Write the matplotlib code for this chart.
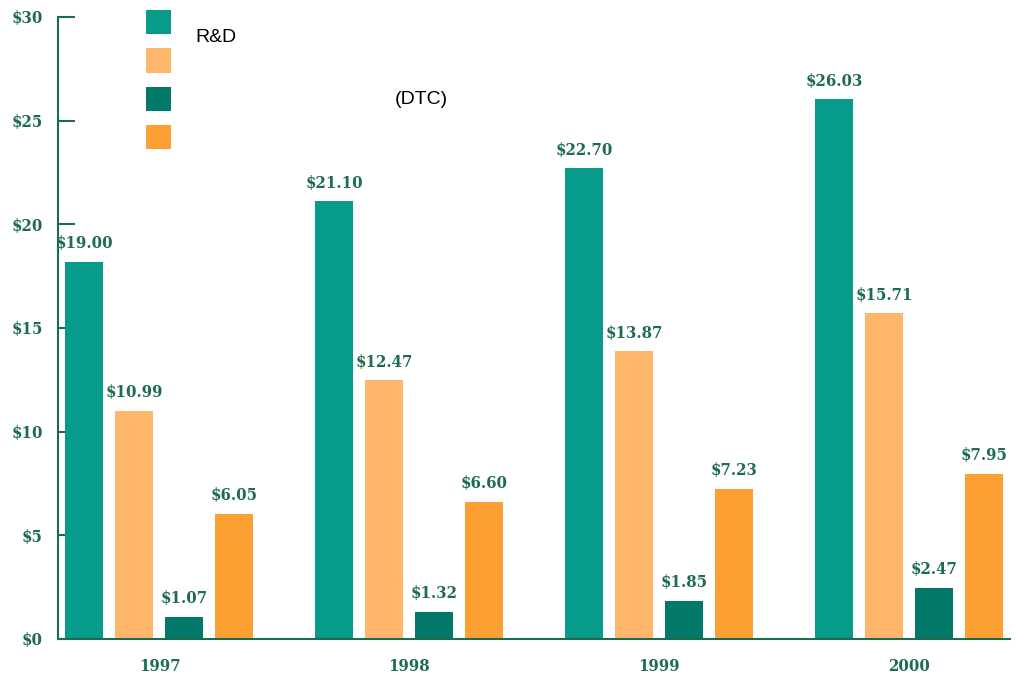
import matplotlib
matplotlib.use("Agg")
import matplotlib.pyplot as plt
import numpy as np

# data
years = ["1997", "1998", "1999", "2000"]
rd = [18.2, 21.10, 22.70, 26.03]
rd_text = [19.00, 21.10, 22.70, 26.03]
series2 = [10.99, 12.47, 13.87, 15.71]
dtc = [1.07, 1.32, 1.85, 2.47]
series4 = [6.05, 6.60, 7.23, 7.95]
yticks = [0, 5, 10, 15, 20, 25, 30]

colors = ["#079b8b", "#fdb66a", "#03796a", "#fda034"]
green = "#1e6b52"
bold_font = dict(family="DejaVu Serif", stretch="condensed", weight="bold", size=12)

fig = plt.figure(figsize=(10.17, 6.79), dpi=100)
ax = fig.add_axes([0.057, 0.059, 0.936, 0.916])

x = np.arange(len(years))
width = 0.152
step = 0.2
all_series = [(rd, rd_text), (series2, series2), (dtc, dtc), (series4, series4)]
handles = []
for i, (vals, labs) in enumerate(all_series):
    pos = x + (i - 1.5) * step
    bars = ax.bar(pos, vals, width, color=colors[i], zorder=2)
    handles.append(bars)
    for p, v, l in zip(pos, vals, labs):
        ax.annotate("${:.2f}".format(l), (p, v), xytext=(0, 7), textcoords="offset points",
                    ha="center", va="bottom", color=green, **bold_font)

ax.set_xlim(-0.406, 3.402)
ax.set_ylim(0, 30)
ax.set_xticks(x)
ax.set_xticklabels(years, color=green, **bold_font)
ax.set_yticks(yticks)
ax.set_yticklabels(["${}".format(t) for t in yticks], color=green, **bold_font)
ax.tick_params(axis="x", length=0, pad=14)
ax.tick_params(axis="y", direction="in", length=12, width=1.5, color=green, pad=11)

for s in ["top", "right"]:
    ax.spines[s].set_visible(False)
for s in ["left", "bottom"]:
    ax.spines[s].set_color(green)
    ax.spines[s].set_linewidth(1.5)

fig.legend(handles, ["", "", "", ""], loc="upper left",
           bbox_to_anchor=(146 / 1017, 1 - 10 / 679), frameon=False,
           prop={"size": 10}, handlelength=1.8, handleheight=2.3,
           labelspacing=1.02, borderpad=0, borderaxespad=0, handletextpad=0.5)
fig.text(195 / 1017, 1 - 37 / 679, "R&D", fontsize=14, va="center", ha="left",
         family="Liberation Sans")
fig.text(395 / 1017, 1 - 100 / 679, "(DTC)", fontsize=14, va="center", ha="left",
         family="Liberation Sans")

fig.savefig("out.png", dpi=100)
